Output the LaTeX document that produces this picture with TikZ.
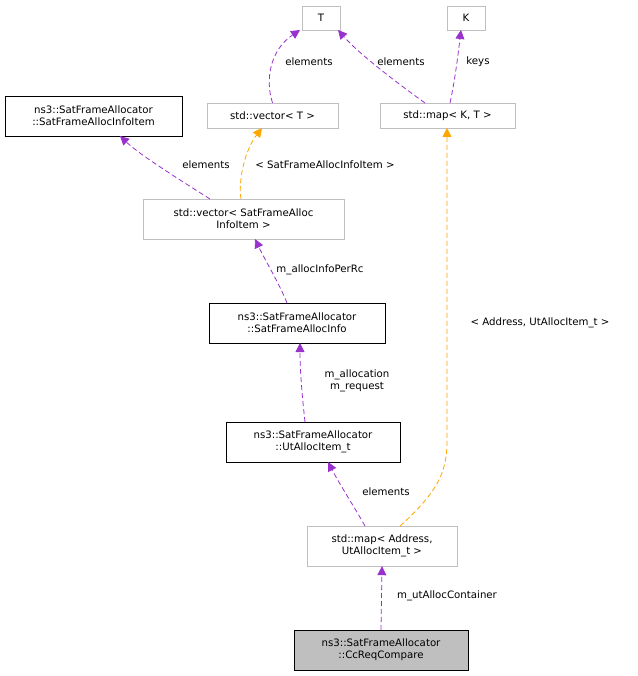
\documentclass[tikz,border=0pt]{standalone}
\usepackage{fontspec}
\setmainfont{DejaVu Sans}
\usetikzlibrary{arrows.meta}
\definecolor{pur}{RGB}{153,50,204}
\definecolor{org}{RGB}{255,165,0}
\definecolor{gbox}{RGB}{191,191,191}
\begin{document}
\begin{tikzpicture}[x=1pt,y=-1pt,
 box/.style={draw=#1,rectangle,inner sep=0pt,font=\fontsize{10.2}{12}\selectfont,align=center,text=black},
 box/.default=black,
 ed/.style={dash pattern=on 5pt off 3pt,draw=#1,line width=0.8pt,-{Triangle[length=9pt,width=9pt,fill=#1]}},
 ed/.default=pur,
 lb/.style={font=\fontsize{10.2}{12}\selectfont,inner sep=1pt,align=center}]
\useasboundingbox (0,0) rectangle (637,676);
\node[box=gbox,minimum width=38,minimum height=24] (T) at (321,18) {T};
\node[box=gbox,minimum width=38,minimum height=24] (K) at (466,18) {K};
\node[box,minimum width=177,minimum height=40] (info) at (93.5,116) {ns3::SatFrameAllocator\\::SatFrameAllocInfoItem};
\node[box=gbox,minimum width=131,minimum height=25] (vt) at (272.5,115.5) {std::vector< T >};
\node[box=gbox,minimum width=135,minimum height=25] (mkt) at (447.5,115.5) {std::map< K, T >};
\node[box=gbox,minimum width=201,minimum height=40] (vs) at (243.5,219) {std::vector< SatFrameAlloc\\InfoItem >};
\node[box,minimum width=176,minimum height=40] (ai) at (297,323) {ns3::SatFrameAllocator\\::SatFrameAllocInfo};
\node[box,minimum width=174,minimum height=40] (ut) at (313,442) {ns3::SatFrameAllocator\\::UtAllocItem\_t};
\node[box=gbox,minimum width=150,minimum height=40] (ma) at (382,546) {std::map< Address,\\UtAllocItem\_t >};
\node[box,fill=gbox,minimum width=174,minimum height=40] (cc) at (381,650) {ns3::SatFrameAllocator\\::CcReqCompare};
\draw[ed] (vt.north) .. controls (265,80) and (270,50) .. (300,30);
\node[lb] (l1) at (309,62) {elements};
\draw[ed] (425,103) .. controls (400,85) and (360,55) .. (338,30);
\node[lb] (l2) at (401,62) {elements};
\draw[ed] (450,103) .. controls (455,80) and (458,55) .. (461,30);
\node[lb] (l3) at (478,62) {keys};
\draw[ed] (210,199) .. controls (180,180) and (140,155) .. (120,136);
\node[lb] (l4) at (206,165) {elements};
\draw[ed=org] (241,199) .. controls (238,180) and (245,150) .. (262,128);
\node[lb] (l5) at (325,165) {< SatFrameAllocInfoItem >};
\draw[ed] (287,303) .. controls (280,285) and (265,260) .. (255,239);
\node[lb] (l6) at (320,270) {m\_allocInfoPerRc};
\draw[ed] (305,422) .. controls (302,395) and (300,370) .. (300,343);
\node[lb] (l7) at (357,381) {m\_allocation\\m\_request};
\draw[ed] (365,526) .. controls (355,508) and (340,485) .. (328,462);
\node[lb] (l8) at (386,492) {elements};
\draw[ed=org] (400,526) .. controls (440,490) and (447,470) .. (447,440) -- (447,128);
\node[lb] (l9) at (540,323) {< Address, UtAllocItem\_t >};
\draw[ed] (cc.north) -- (ma.south);
\node[lb] (l10) at (447,596) {m\_utAllocContainer};
\end{tikzpicture}
\end{document}
